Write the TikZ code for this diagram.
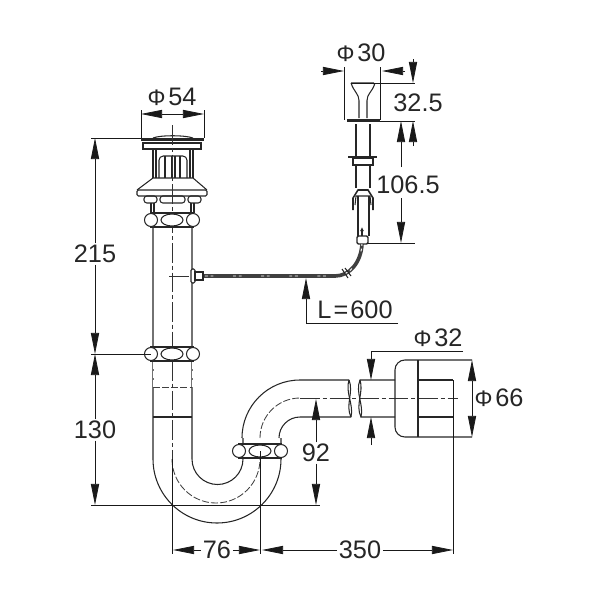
\documentclass[tikz,border=0pt]{standalone}
\usepackage{fontspec}
\setmainfont{Liberation Sans}
\usetikzlibrary{arrows.meta, positioning}
\tikzset{
  dimtip/.tip={Triangle[length=15pt, width=5.8pt]},
  part/.style={draw=black!85, line width=0.75pt},
  axis/.style={draw=black!80, line width=0.4pt, dash pattern=on 14pt off 2pt on 3pt off 2pt},
  hidden/.style={draw=black!75, line width=0.6pt, dash pattern=on 5pt off 1.5pt},
  dimline/.style={draw=black!90, line width=0.5pt},
  dimlabel/.style={font=\fontsize{18}{20}\selectfont, text=black!85, inner sep=1pt},
  ringnut/.pic={
    \draw[part, fill=white] (-21,-7) rectangle (21,7);
    \draw[part, fill=white] (-21,0) circle [radius=6.5];
    \draw[part, fill=white] (21,0) circle [radius=6.5];
    \draw[part, fill=white] (0,0) ellipse [x radius=11, y radius=6];
  }
}
\newcommand{\phisign}{{\fontsize{16}{20}\selectfont Φ}\kern2pt}

\begin{document}
\begin{tikzpicture}[x=0.025cm, y=-0.025cm]
  \useasboundingbox (0,0) rectangle (600,600);

  % waste plug
  \draw[part] (153,138) .. controls (160,135) and (185,135) .. (193,138);
  \draw[draw=black!85, line width=1.8pt] (141,139.5) -- (204,139.5);
  \draw[part] (143,143) rectangle (201,149);
  \draw[part] (153,149) -- (153,178) (156,149) -- (156,178) (190,149) -- (190,178) (193,149) -- (193,178);
  \draw[part, rounded corners=3pt] (159,178) -- (159,156) -- (187,156) -- (187,178);
  \draw[part] (165,156) -- (165,178) (180,156) -- (180,178);
  \draw[draw=black!85, line width=1.2pt] (172,156) -- (172,178) (175,156) -- (175,178);
  \draw[part] (153,178) -- (193,178) (153,178) -- (137,190) (193,178) -- (207,190);
  \draw[part, rounded corners=1pt] (137,190) rectangle (207,196);
  \draw[part, rounded corners=2pt] (144,196) rectangle (157,203);
  \draw[part, rounded corners=2pt] (160,196) rectangle (185,203);
  \draw[part, rounded corners=2pt] (188,196) rectangle (201,203);
  \draw[part] (151,203) -- (151,213) (154,203) -- (154,213) (191,203) -- (191,213) (194,203) -- (194,213);

  % tail pipe and trap
  \draw[part] (153,227) -- (153,459) arc[start angle=180, end angle=0, radius=64] -- (281,438);
  \draw[part] (192,227) -- (192,459) arc[start angle=180, end angle=0, radius=25.5] -- (243,438);
  \draw[part] (242,438) arc[start angle=180, end angle=270, radius=58] -- (349,380);
  \draw[part] (279,438) arc[start angle=180, end angle=270, radius=21] -- (351,417);
  \draw[part] (153,417) -- (192,417);
  \draw[hidden, draw=white] (153,362) -- (153,387) (192,362) -- (192,387);
  \draw[hidden] (153,387) -- (192,387);
  \draw[hidden] (172,459) arc[start angle=180, end angle=0, radius=44];
  \draw[hidden] (260,438) arc[start angle=180, end angle=270, radius=40];
  \draw[axis] (172,125) -- (172,459);
  \draw[axis] (300,398) -- (458,398);
  \pic at (172,220) {ringnut};
  \pic at (172,354) {ringnut};
  \pic at (260,451) {ringnut};

  % pipe break and wall flange
  \draw[part] (349,380) .. controls (345,392) and (354,405) .. (351,417);
  \draw[part] (349,380) .. controls (354,392) and (345,405) .. (351,417);
  \draw[part] (395,380) -- (360,380) .. controls (355,392) and (364,405) .. (361,417) -- (395,417);
  \draw[part] (360,380) .. controls (364,392) and (355,405) .. (361,417);
  \draw[part, rounded corners=7pt] (472,360) -- (395,360) -- (395,437) -- (472,437);
  \draw[part] (418,360) -- (418,437);
  \draw[part] (418,380) -- (453,380) (418,417) -- (453,417);

  % pop-up rod
  \draw[part, rounded corners=1pt] (351,83) -- (375,83) .. controls (372,92) and (367,94) .. (367,102) -- (367,118) (351,83) .. controls (354,92) and (359,94) .. (359,102) -- (359,118);
  \draw[draw=black!85, line width=1.8pt, rounded corners=1pt] (347,120.5) -- (380,120.5);
  \draw[part] (356,124) -- (356,157) (370,124) -- (370,157);
  \draw[draw=black!85, line width=1.2pt] (348,157) -- (377,157);
  \draw[part] (353,158) rectangle (373,165);
  \draw[part] (356,165) -- (356,188) (370,165) -- (370,188);
  \draw[draw=black!85, line width=1.1pt] (353,210) -- (353,198) -- (358,190) -- (368,190) -- (373,198) -- (373,210);
  \draw[part] (355,205) -- (356,196) -- (370,196) -- (371,205);
  \draw[part] (358,196) -- (358,236) (369,196) -- (369,236);
  \draw[part, -{Latex[length=3pt, width=3pt]}] (362,236) -- (362,227);
  \draw[draw=black!85, line width=1pt, rounded corners=1pt] (357,236) rectangle (368,244);

  % cable
  \draw[draw=black!75, line width=2.6pt] (203,276) -- (335,276) .. controls (350,276) and (361,262) .. (362,244);
  \draw[draw=white, line width=0.7pt, dash pattern=on 2pt off 2pt on 2pt off 14pt] (205,276) -- (335,276) .. controls (350,276) and (361,262) .. (362,244);
  \draw[part] (342,269) -- (348,278) (345,268) -- (351,276);
  \draw[part, fill=white, rounded corners=1pt] (191,269) rectangle (195,283);
  \draw[part, fill=white] (195,272) rectangle (203,280);
  \draw[axis] (169,276) -- (191,276);

  % dimension texts
  \node[dimlabel] (dia54) at (172,97) {\phisign 54};
  \node[dimlabel] (dia30) at (361,53) {\phisign 30};
  \node[dimlabel] (len325) at (418,103) {32.5};
  \node[dimlabel] (len1065) at (408,185) {106.5};
  \node[dimlabel] (len215) at (95,254) {215};
  \node[dimlabel] (len130) at (95,430) {130};
  \node[dimlabel] (len92) at (316,453) {92};
  \node[dimlabel] (len76) at (217,550) {76};
  \node[dimlabel] (len350) at (360,550) {350};
  \node[dimlabel] (dia32) at (438,338) {\phisign 32};
  \node[dimlabel] (dia66) at (499,398) {\phisign 66};
  \node[dimlabel] (cablelen) at (355,310) {L\kern1.5pt=\kern1.5pt600};

  % extension lines
  \draw[dimline] (141,110) -- (141,138) (204,110) -- (204,138);
  \draw[dimline] (344,67) -- (344,120) (380,67) -- (380,120);
  \draw[dimline] (351,83) -- (415,83) (380,121) -- (415,121) (367,243) -- (415,243);
  \draw[dimline] (91,138) -- (141,138) (91,354) -- (151,354) (91,505) -- (320,505);
  \draw[dimline] (172,459) -- (172,554) (260,451) -- (260,554) (453,380) -- (453,554);

  % dimension arrows
  \draw[dimline, dimtip-dimtip] (141,114) -- (204,114);
  \draw[dimline, -dimtip] (321,71) -- (344,71);
  \draw[dimline, -dimtip] (405,71) -- (382,71);
  \draw[dimline, -dimtip] (413,59) -- (413,83);
  \draw[dimline, -dimtip] (413,146) -- (413,121);
  \draw[dimline, -dimtip] (401,167) -- (401,121);
  \draw[dimline, -dimtip] (401,198) -- (401,243);
  \draw[dimline, -dimtip] (len215) -- (95,138);
  \draw[dimline, -dimtip] (len215) -- (95,354);
  \draw[dimline, -dimtip] (len130) -- (95,354);
  \draw[dimline, -dimtip] (len130) -- (95,505);
  \draw[dimline, -dimtip] (len92) -- (316,399);
  \draw[dimline, -dimtip] (len92) -- (316,505);
  \draw[dimline, -dimtip] (len76) -- (173,550);
  \draw[dimline, -dimtip] (len76) -- (260,550);
  \draw[dimline, -dimtip] (len350) -- (262,550);
  \draw[dimline, -dimtip] (len350) -- (453,550);
  \draw[dimline] (463,351) -- (371,351);
  \draw[dimline, -dimtip] (371,351) -- (371,380);
  \draw[dimline, -dimtip] (371,445) -- (371,417);
  \draw[dimline, dimtip-dimtip] (472,360) -- (472,437);
  \draw[dimline] (398,323) -- (306,323);
  \draw[dimline, -dimtip] (306,323) -- (306,278);
\end{tikzpicture}
\end{document}
